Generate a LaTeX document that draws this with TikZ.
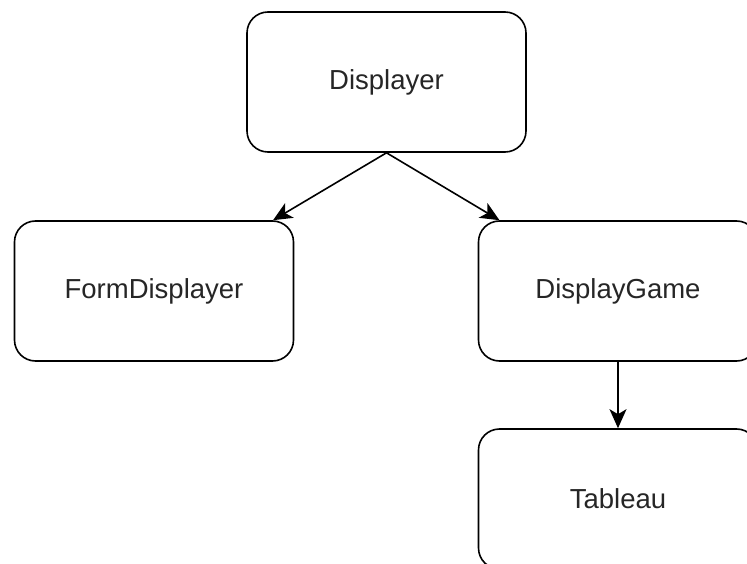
\documentclass[tikz,border=0pt]{standalone}
\usepackage{fontspec}
\setmainfont{Liberation Sans}
\usetikzlibrary{arrows.meta}
\tikzset{
    classbox/.style={draw, line width=1.6pt, rounded corners=21pt, minimum width=279pt, minimum height=140pt,
            font=\fontsize{27.5}{33}\selectfont, text=black!85},
    link/.style={line width=1.6pt, -{Stealth[length=19pt, width=17pt, inset=5pt]}}
}
\begin{document}
\begin{tikzpicture}[x=1pt, y=-1pt]
            \useasboundingbox (0,0) rectangle (747,564);
            \node[classbox] (disp) at (386.5,82) {Displayer};
            \node[classbox] (form) at (154,291) {FormDisplayer};
            \node[classbox] (game) at (618,291) {DisplayGame};
            \node[classbox] (tab) at (618,499) {Tableau};
            \draw[link] (disp.south) -- (form);
            \draw[link] (disp.south) -- (game);
            \draw[link] (game) -- (tab);
        \end{tikzpicture}
\end{document}
